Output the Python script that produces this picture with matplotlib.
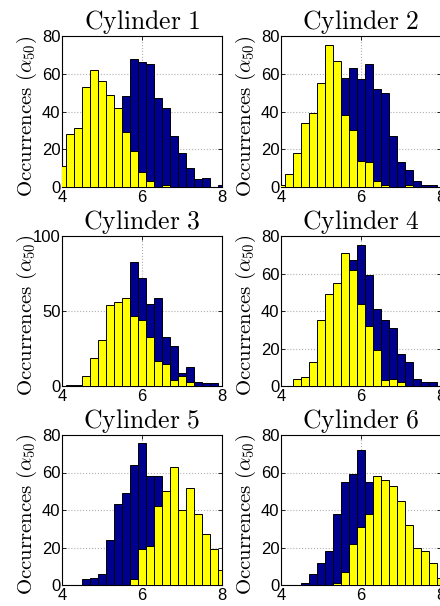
import numpy as np
import matplotlib
matplotlib.use("Agg")
import matplotlib.pyplot as plt

plt.rcParams['mathtext.fontset'] = 'cm'
plt.rcParams['font.family'] = ['Liberation Sans', 'DejaVu Sans']

# bin centres of the histograms
bins = [4.0, 4.2, 4.4, 4.6, 4.8, 5.0, 5.2, 5.4, 5.6, 5.8, 6.0,
        6.2, 6.4, 6.6, 6.8, 7.0, 7.2, 7.4, 7.6, 7.8, 8.0]

yellow1 = [11, 28, 31, 53, 62, 56, 49, 42, 29, 19, 8, 3, 0, 1, 0, 0, 0, 0, 0, 0, 0]
blue1 = [0, 0, 0, 1, 2, 6, 15, 30, 48, 68, 66, 65, 47, 42, 27, 18, 10, 4, 5, 0, 1]

yellow2 = [1, 7, 18, 34, 39, 55, 75, 67, 38, 30, 14, 13, 3, 1, 0, 0, 1, 0, 0, 0, 0]
blue2 = [0, 0, 0, 1, 4, 10, 25, 40, 58, 63, 57, 65, 52, 50, 27, 13, 9, 3, 1, 1, 0]

yellow3 = [0, 1, 1, 7, 19, 31, 54, 56, 59, 47, 44, 33, 17, 15, 4, 7, 3, 0, 0, 0, 0]
blue3 = [0, 0, 0, 0, 2, 5, 12, 25, 40, 83, 72, 55, 59, 33, 27, 9, 13, 3, 2, 2, 0]

yellow4 = [0, 0, 4, 5, 13, 35, 49, 55, 71, 62, 44, 32, 19, 3, 4, 2, 0, 0, 0, 0, 0]
blue4 = [0, 0, 0, 1, 2, 6, 15, 30, 50, 67, 75, 59, 41, 35, 31, 17, 13, 4, 2, 2, 0]

yellow5 = [0, 0, 0, 0, 0, 0, 0, 0, 0, 3, 19, 21, 42, 50, 63, 40, 52, 38, 27, 19, 8]
blue5 = [0, 0, 0, 3, 4, 6, 24, 43, 49, 64, 76, 58, 58, 38, 24, 12, 6, 3, 1, 0, 0]

yellow6 = [0, 0, 0, 0, 0, 0, 0, 1, 7, 22, 31, 38, 58, 56, 53, 45, 32, 20, 18, 12, 4]
blue6 = [0, 0, 0, 1, 6, 12, 18, 38, 55, 59, 72, 55, 40, 25, 12, 5, 2, 1, 0, 0, 0]

titles = ['Cylinder 1', 'Cylinder 2', 'Cylinder 3',
          'Cylinder 4', 'Cylinder 5', 'Cylinder 6']
yellows = [yellow1, yellow2, yellow3, yellow4, yellow5, yellow6]
blues = [blue1, blue2, blue3, blue4, blue5, blue6]
ymax = [80, 80, 100, 80, 80, 80]
xticks = [4, 6, 8]

fig = plt.figure(figsize=(4.4, 6.06), dpi=100)

W, H = 440.0, 606.0
lefts = [62, 281]
rows = [(36, 187), (236, 386), (435, 585)]

for i in range(6):
    r, c = divmod(i, 2)
    top, bot = rows[r]
    ax = fig.add_axes([lefts[c] / W, 1 - bot / H, 160 / W, (bot - top) / H])
    ax.bar(bins, blues[i], width=0.2, color='#00008f', edgecolor='black',
           linewidth=0.7, zorder=2)
    ax.bar(bins, yellows[i], width=0.2, color='#ffff00', edgecolor='black',
           linewidth=0.7, zorder=3)
    ax.set_xlim(4, 8)
    ax.set_ylim(0, ymax[i])
    ax.set_xticks(xticks)
    if ymax[i] == 100:
        ax.set_yticks([0, 50, 100])
    else:
        ax.set_yticks([0, 20, 40, 60, 80])
    ax.grid(True, linestyle=':', color='#b0b0b0', linewidth=0.8, zorder=0)
    ax.set_axisbelow(True)
    ax.tick_params(direction='in', length=3, width=0.6, labelsize=12,
                   top=True, right=True)
    ax.tick_params(axis='y', pad=1.0)
    ax.tick_params(axis='x', pad=2)
    for s in ax.spines.values():
        s.set_linewidth(0.8)
    ax.set_title(r'$\mathrm{%s}$' % titles[i].replace(' ', r'\ '),
                 fontsize=18.5, pad=5)
    ax.set_ylabel(r'$\mathrm{Occurrences}\ (\alpha_{50})$', fontsize=15)
    ax.yaxis.set_label_coords(-0.145, 0.47)

fig.savefig('out.png', dpi=100)
